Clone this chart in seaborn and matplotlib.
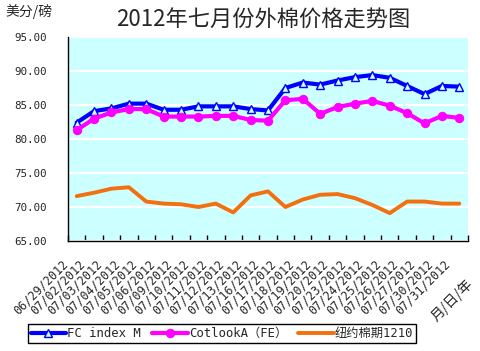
import matplotlib
matplotlib.use("Agg")
import matplotlib.pyplot as plt
import matplotlib.transforms as mtransforms
import seaborn as sns
import pandas as pd
import numpy as np
from matplotlib.ticker import FixedLocator, FormatStrFormatter

dates = ["06/29/2012", "07/02/2012", "07/03/2012", "07/04/2012", "07/05/2012",
         "07/06/2012", "07/09/2012", "07/10/2012", "07/11/2012", "07/12/2012",
         "07/13/2012", "07/16/2012", "07/17/2012", "07/18/2012", "07/19/2012",
         "07/20/2012", "07/23/2012", "07/24/2012", "07/25/2012", "07/26/2012",
         "07/27/2012", "07/30/2012", "07/31/2012"]
fc_index_m = [82.4, 84.1, 84.5, 85.2, 85.2, 84.3, 84.3, 84.8, 84.8, 84.8,
              84.4, 84.2, 87.5, 88.3, 88.0, 88.6, 89.1, 89.4, 89.0, 87.8,
              86.6, 87.8, 87.7]
cotlook_a = [81.3, 83.0, 83.9, 84.4, 84.4, 83.3, 83.3, 83.3, 83.4, 83.4,
             82.8, 82.7, 85.7, 85.9, 83.7, 84.7, 85.2, 85.6, 84.9, 83.8,
             82.3, 83.4, 83.1]
ny_1210 = [71.6, 72.1, 72.7, 72.9, 70.8, 70.5, 70.4, 70.0, 70.5, 69.2,
           71.7, 72.3, 70.0, 71.1, 71.8, 71.9, 71.3, 70.3, 69.1, 70.8,
           70.8, 70.5, 70.5]
series_names = ["FC index M", "CotlookA（FE）", "纽约棉期1210"]
title = "2012年七月份外棉价格走势图"
y_label = "美分/磅"
x_label = "月/日/年"

sns.set_theme(style="white")
plt.rcParams['font.family'] = ['DejaVu Sans Mono', 'Noto Sans CJK SC']

n = len(dates)
df = pd.DataFrame({
    "idx": list(range(n)) * 3,
    "value": fc_index_m + cotlook_a + ny_1210,
    "series": [series_names[0]] * n + [series_names[1]] * n + [series_names[2]] * n,
})

fig = plt.figure(figsize=(4.81, 3.51), dpi=100)
fig.patch.set_facecolor("white")
ax = fig.add_axes([68 / 481, 1 - 241 / 351, 400 / 481, 204 / 351])
ax.set_facecolor("#CCFFFF")

palette = {series_names[0]: "#0000FF", series_names[1]: "#FF00FF", series_names[2]: "#F2700F"}

for name in series_names:
    sub = df[df["series"] == name]
    kw = {}
    if name == series_names[0]:
        kw = dict(marker="^", markersize=5.5, markerfacecolor="#CCFFFF",
                  markeredgecolor="#0000FF", markeredgewidth=1.0)
        lw = 3.0
    elif name == series_names[1]:
        kw = dict(marker="o", markersize=6, markerfacecolor="#FF00FF",
                  markeredgecolor="#FF00FF")
        lw = 3.0
    else:
        lw = 2.8
    sns.lineplot(data=sub, x="idx", y="value", color=palette[name], linewidth=lw,
                 ax=ax, label=name, legend=False, **kw)

ax.set_xlim(-0.5, n - 0.5)
ax.set_ylim(65, 95)
ax.set_yticks(np.arange(65, 95.1, 5))
ax.yaxis.set_major_formatter(FormatStrFormatter("%.2f"))
ax.grid(axis="y", color="white", linewidth=1.6)
ax.set_axisbelow(True)
for s in ["top", "right"]:
    ax.spines[s].set_visible(False)
for s in ["left", "bottom"]:
    ax.spines[s].set_color("black")
    ax.spines[s].set_linewidth(1.0)

ax.set_xticks(range(n))
ax.set_xticklabels(dates, rotation=45, ha="right", va="center", rotation_mode="anchor", fontsize=8.5)
ax.tick_params(axis="x", which="major", length=0, pad=15)
offset = mtransforms.ScaledTranslation(-11 / 100, 0, fig.dpi_scale_trans)
for lbl in ax.get_xticklabels():
    lbl.set_transform(lbl.get_transform() + offset)
ax.xaxis.set_minor_locator(FixedLocator(np.arange(-0.5, n, 1.0)))
ax.tick_params(axis="x", which="minor", direction="in", length=4, width=1, color="black", bottom=True)
ax.tick_params(axis="y", length=0, pad=15, labelsize=7.8)
ax.set_xlabel("")
ax.set_ylabel("")

fig.text(263 / 481, 1 - 20 / 351, title, ha="center", va="center", fontsize=16,
         family=['Noto Sans CJK SC'])
fig.text(5 / 481, 1 - 12 / 351, y_label, ha="left", va="center", fontsize=10,
         family=['Noto Sans CJK SC'])
fig.text(452 / 481, 1 - 300 / 351, x_label, ha="center", va="center", fontsize=10,
         rotation=45, family=['Noto Sans CJK SC'])

handles, labels = ax.get_legend_handles_labels()
leg = fig.legend(handles, labels, loc="center", bbox_to_anchor=(222 / 481, 1 - 333.5 / 351),
                 ncol=3, fancybox=False, edgecolor="black", framealpha=1,
                 handlelength=2.9, handletextpad=0.1, columnspacing=0.9, borderpad=0.25,
                 borderaxespad=0, prop={'family': ['DejaVu Sans Mono', 'Noto Sans CJK SC'], 'size': 8.8})
leg.get_frame().set_linewidth(1.0)

fig.savefig("out.png", dpi=100, facecolor="white")
